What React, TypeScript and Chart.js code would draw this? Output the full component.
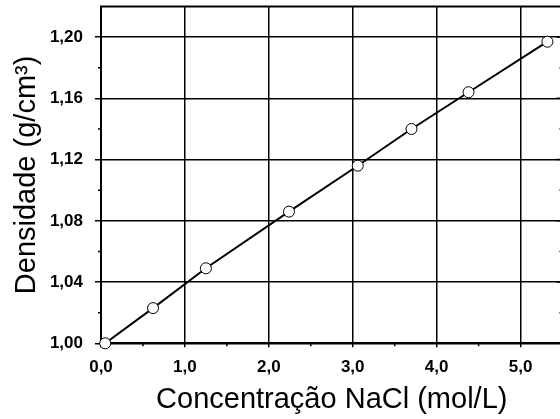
import React, { useEffect, useRef } from "react";
import { Chart, registerables } from "chart.js";

Chart.register(...registerables);

const concentration = [0.05, 0.62, 1.25, 2.24, 3.06, 3.7, 4.38, 5.32];
const density = [1.0, 1.023, 1.049, 1.086, 1.116, 1.14, 1.164, 1.197];
const xMajorTicks = [0, 1, 2, 3, 4, 5];
const xMinorTicks = [0.5, 1.5, 2.5, 3.5, 4.5];
const yMajorTicks = [1.0, 1.04, 1.08, 1.12, 1.16, 1.2];
const yMinorTicks = [1.02, 1.06, 1.1, 1.14, 1.18];
const xTitle = "Concentração NaCl (mol/L)";
const yTitle = "Densidade (g/cm³)";

const FONT = "'Liberation Sans', Arial, sans-serif";
const TARGET_RIGHT = 562.5;

const framePlugin = {
  id: "frame",
  afterDraw(chart: any) {
    const { ctx, chartArea } = chart;
    const { left, right, top, bottom } = chartArea;
    const xs = chart.scales.x;
    const ys = chart.scales.y;
    ctx.save();
    ctx.strokeStyle = "#000";
    ctx.lineWidth = 2;
    ctx.beginPath();
    ctx.moveTo(left - 1, top);
    ctx.lineTo(right, top);
    ctx.stroke();
    ctx.lineWidth = 1.5;
    ctx.beginPath();
    for (const v of yMinorTicks) {
      const py = ys.getPixelForValue(v);
      ctx.moveTo(left - 3, py);
      ctx.lineTo(left, py);
      ctx.moveTo(right - 3, py);
      ctx.lineTo(right, py);
    }
    for (const v of yMajorTicks) {
      const py = ys.getPixelForValue(v);
      ctx.moveTo(right - 6, py);
      ctx.lineTo(right, py);
    }
    for (const v of xMinorTicks) {
      const px = xs.getPixelForValue(v);
      ctx.moveTo(px, bottom);
      ctx.lineTo(px, bottom + 3);
    }
    ctx.stroke();
    ctx.restore();
  },
};

export default function App() {
  const ref = useRef<HTMLCanvasElement | null>(null);
  useEffect(() => {
    if (!ref.current) return;
    const chart = new Chart(ref.current, {
      type: "scatter",
      data: {
        datasets: [
          {
            data: concentration.map((c, i) => ({ x: c, y: density[i] })),
            showLine: true,
            borderColor: "#000",
            borderWidth: 2,
            backgroundColor: "#fff",
            pointBackgroundColor: "#fff",
            pointBorderColor: "#000",
            pointBorderWidth: 1,
            pointRadius: 5.5,
            tension: 0,
            clip: false,
          },
        ],
      },
      options: {
        responsive: false,
        animation: false,
        layout: { padding: { top: 6, right: 0, left: 0, bottom: 0 } },
        plugins: { legend: { display: false }, tooltip: { enabled: false } },
        scales: {
          x: {
            type: "linear",
            min: 0,
            max: 5.5,
            afterBuildTicks: (s: any) => {
              s.ticks = xMajorTicks.map((v) => ({ value: v }));
            },
            afterFit: (s: any) => {
              s.height = 75;
              s.paddingLeft = 0;
              s.paddingRight = 0;
            },
            grid: { color: "#000", lineWidth: 1.5, tickLength: 4, tickColor: "#000", tickWidth: 1.5 },
            border: { display: true, color: "#000", width: 2 },
            ticks: {
              color: "#000",
              padding: 10,
              font: { family: FONT, size: 17, weight: "bold" },
              callback: (v: any) => Number(v).toFixed(1).replace(".", ","),
              maxRotation: 0,
            },
            title: {
              display: true,
              text: xTitle,
              color: "#000",
              font: { family: FONT, size: 29 },
              padding: { top: 1, bottom: 1 },
            },
          },
          y: {
            type: "linear",
            min: 1.0,
            max: 1.22,
            afterBuildTicks: (s: any) => {
              s.ticks = yMajorTicks.map((v) => ({ value: v }));
            },
            afterFit: (s: any) => {
              s.width = 101;
              s.paddingTop = 0;
              s.paddingBottom = 0;
            },
            grid: { color: "#000", lineWidth: 1.5, tickLength: 6, tickColor: "#000", tickWidth: 1.5 },
            border: { display: true, color: "#000", width: 2 },
            ticks: {
              color: "#000",
              padding: 12,
              font: { family: FONT, size: 17, weight: "bold" },
              callback: (v: any) => Number(v).toFixed(2).replace(".", ","),
            },
            title: {
              display: true,
              text: yTitle,
              color: "#000",
              font: { family: FONT, size: 29 },
              padding: { top: 10, bottom: 0 },
            },
          },
        },
      },
      plugins: [framePlugin],
    } as any);
    let w = 570;
    for (let i = 0; i < 3; i++) {
      const diff = TARGET_RIGHT - chart.chartArea.right;
      if (Math.abs(diff) < 0.3) break;
      w = w + diff;
      chart.resize(w, 419);
    }
    return () => chart.destroy();
  }, []);
  return (
    <div style={{ position: "fixed", left: 0, top: 0, width: 560, height: 419, background: "#fff", overflow: "hidden" }}>
      <div style={{ position: "absolute", left: 0, top: 0, width: 640, height: 419 }}>
        <canvas ref={ref} width={570} height={419} />
      </div>
    </div>
  );
}
